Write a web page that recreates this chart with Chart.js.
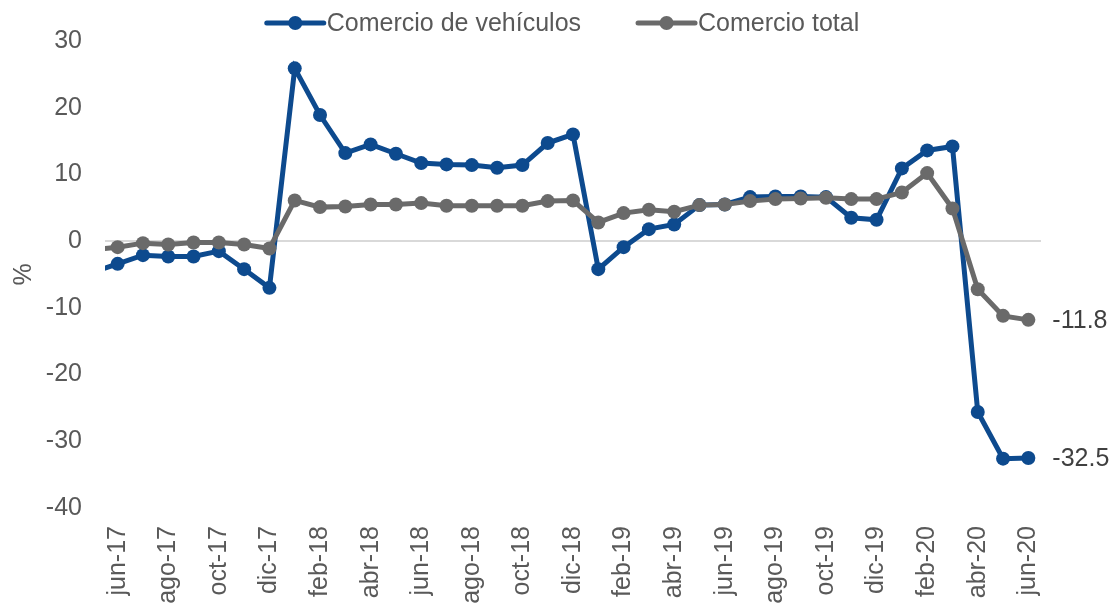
<!DOCTYPE html>
<html><head><meta charset="utf-8">
<script src="https://cdn.jsdelivr.net/npm/chart.js@4/dist/chart.umd.min.js"></script>
<style>html,body{margin:0;padding:0;background:#fff}#wrap{width:1117px;height:606px;position:relative}</style>
</head><body><div id="wrap"><canvas id="c"></canvas></div>
<script>
const months = ['may-17','jun-17','jul-17','ago-17','sep-17','oct-17','nov-17','dic-17',
  'ene-18','feb-18','mar-18','abr-18','may-18','jun-18','jul-18','ago-18','sep-18','oct-18','nov-18','dic-18',
  'ene-19','feb-19','mar-19','abr-19','may-19','jun-19','jul-19','ago-19','sep-19','oct-19','nov-19','dic-19',
  'ene-20','feb-20','mar-20','abr-20','may-20','jun-20'];
const tickLabels = ['jun-17','ago-17','oct-17','dic-17','feb-18','abr-18','jun-18','ago-18','oct-18','dic-18',
  'feb-19','abr-19','jun-19','ago-19','oct-19','dic-19','feb-20','abr-20','jun-20'];
const vehiculos = [-4.7,-3.4,-2.1,-2.3,-2.3,-1.5,-4.2,-7.0,
  25.9,18.9,13.2,14.5,13.1,11.7,11.5,11.4,11.0,11.4,14.7,16.0,
  -4.2,-0.9,1.8,2.5,5.4,5.5,6.6,6.7,6.7,6.6,3.5,3.2,
  10.9,13.6,14.2,-25.6,-32.6,-32.5];
const total = [-1.3,-0.9,-0.3,-0.5,-0.2,-0.2,-0.5,-1.1,
  6.1,5.1,5.2,5.5,5.5,5.7,5.3,5.3,5.3,5.3,6.0,6.1,
  2.8,4.2,4.7,4.4,5.4,5.5,6.0,6.3,6.4,6.5,6.3,6.3,
  7.3,10.2,4.9,-7.2,-11.2,-11.8];
const seriesNames = ['Comercio de vehículos','Comercio total'];
const yMin = -40, yMax = 30, yStep = 10;

const FONT = '"Liberation Sans", Arial, sans-serif';
const BLUE = '#0d4a8e', GRAY = '#6a6a6a', TXT = '#595959';

const lineLegend = {
  id: 'lineLegend',
  afterDraw(chart) {
    const ctx = chart.ctx;
    ctx.save();
    ctx.font = '25px ' + FONT;
    const lineW = 57, gapT = 3, gapItem = 57;
    const items = chart.data.datasets.map(ds => ({text: ds.label, color: ds.borderColor,
      w: lineW + gapT + ctx.measureText(ds.label).width}));
    const tw = items.reduce((s, it) => s + it.w, 0) + gapItem * (items.length - 1);
    let x = 563 - tw / 2;
    const y = 23;
    items.forEach(it => {
      ctx.strokeStyle = it.color; ctx.lineWidth = 5; ctx.lineCap = 'round';
      ctx.beginPath(); ctx.moveTo(x, y); ctx.lineTo(x + lineW, y); ctx.stroke();
      ctx.fillStyle = it.color; ctx.beginPath(); ctx.arc(x + lineW / 2, y, 7, 0, Math.PI * 2); ctx.fill();
      ctx.fillStyle = TXT; ctx.textBaseline = 'middle'; ctx.textAlign = 'left';
      ctx.fillText(it.text, x + lineW + gapT, y + 1);
      x += it.w + gapItem;
    });
    ctx.restore();
  }
};

const lastLabels = {
  id: 'lastLabels',
  afterDatasetsDraw(chart) {
    const ctx = chart.ctx;
    ctx.save();
    ctx.font = '25px ' + FONT;
    ctx.fillStyle = '#404040';
    ctx.textAlign = 'left'; ctx.textBaseline = 'middle';
    chart.data.datasets.forEach((ds, i) => {
      const meta = chart.getDatasetMeta(i);
      const pt = meta.data[meta.data.length - 1];
      const v = ds.data[ds.data.length - 1].y;
      ctx.fillText(v.toFixed(1), pt.x + 24, pt.y + 1);
    });
    ctx.restore();
  }
};

new Chart(document.getElementById('c'), {
  type: 'line',
  data: {
    datasets: [
      {label: seriesNames[0], data: vehiculos.map((v, i) => ({x: i, y: v})),
       borderColor: BLUE, backgroundColor: BLUE, pointBackgroundColor: BLUE, pointBorderColor: BLUE,
       borderWidth: 5, pointRadius: 7, pointBorderWidth: 0, tension: 0, clip: 0, order: 2},
      {label: seriesNames[1], data: total.map((v, i) => ({x: i, y: v})),
       borderColor: GRAY, backgroundColor: GRAY, pointBackgroundColor: GRAY, pointBorderColor: GRAY,
       borderWidth: 5, pointRadius: 7, pointBorderWidth: 0, tension: 0, clip: 0, order: 1}
    ]
  },
  options: {
    responsive: true, maintainAspectRatio: false, animation: false,
    layout: {padding: {top: 41, right: 76, left: 0, bottom: 0}},
    plugins: {legend: {display: false}, tooltip: {enabled: false}},
    scales: {
      x: {
        type: 'linear', min: 0.5, max: 37.5,
        afterBuildTicks: s => { s.ticks = tickLabels.map(l => ({value: months.indexOf(l)})); },
        afterFit: s => { s.height = 98; },
        grid: {display: false, drawTicks: false},
        border: {display: false},
        ticks: {autoSkip: false, minRotation: 90, maxRotation: 90, padding: 18,
          color: TXT, font: {family: FONT, size: 25},
          callback: v => months[v] || ''}
      },
      y: {
        min: yMin, max: yMax,
        afterFit: s => { s.width = 105; },
        grid: {drawTicks: false, color: c => c.tick && c.tick.value === 0 ? '#d9d9d9' : 'rgba(0,0,0,0)', lineWidth: 2},
        border: {display: false},
        ticks: {stepSize: yStep, padding: 23, color: TXT, font: {family: FONT, size: 25}},
        title: {display: true, text: '%', color: TXT, font: {family: FONT, size: 25}, padding: {top: 9, bottom: 0}}
      }
    }
  },
  plugins: [lineLegend, lastLabels]
});
</script></body></html>
